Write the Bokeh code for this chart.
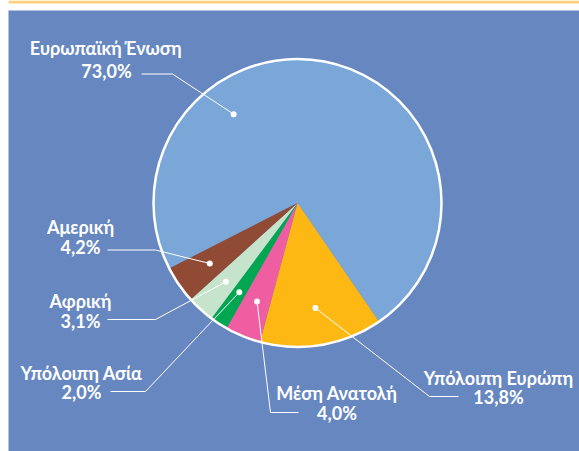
import math
from bokeh.plotting import figure
from bokeh.models import Range1d, ColumnDataSource
from bokeh.core.properties import value
from bokeh.embed import file_html
from bokeh.resources import INLINE

# ---- data ----
regions = ["Ευρωπαϊκή Ένωση", "Υπόλοιπη Ευρώπη", "Μέση Ανατολή",
           "Υπόλοιπη Ασία", "Αφρική", "Αμερική"]
shares = [73.0, 13.8, 4.0, 2.0, 3.1, 4.2]
share_labels = ["73,0%", "13,8%", "4,0%", "2,0%", "3,1%", "4,2%"]
colors = ["#7aa6d8", "#fdb813", "#ee5ea0", "#00a650", "#c6e4cb", "#914a33"]

W, H = 579, 451
def Y(py):
    return H - py

# ---- layout (pixel positions) ----
CX, CY, R = 297, 202.5, 144
START_DEG = -55.5
# label centre x, name y, value y, elbow point, line end
label_pos = {
    "Ευρωπαϊκή Ένωση": (106, 47.5, 70, (172, 73.5), (141, 73.5)),
    "Υπόλοιπη Ευρώπη": (498, 377.5, 396.5, (429, 396), (458, 396)),
    "Μέση Ανατολή": (336.5, 392.5, 412, (270, 412), (298, 412)),
    "Υπόλοιπη Ασία": (81, 372.5, 391.5, (145, 391), (110, 391)),
    "Αφρική": (80, 300, 320, (155, 319), (107, 319)),
    "Αμερική": (80, 226.5, 246.5, (155, 249.5), (107, 249.5)),
}
eu_dot_angle = 125.7

p = figure(width=W, height=H, output_backend="svg", toolbar_location=None,
           x_range=Range1d(0, W), y_range=Range1d(0, H),
           min_border=0, outline_line_color=None,
           background_fill_color="white", border_fill_color="white")
p.axis.visible = False
p.grid.visible = False

p.quad(left=[8], right=[W], bottom=[Y(3)], top=[Y(0)], fill_color="#fcd07c", line_color=None)
p.quad(left=[8], right=[W], bottom=[Y(H)], top=[Y(10)], fill_color="#6787c0", line_color=None)

total = sum(shares)
a = START_DEG
ang = {}
for i in range(1, len(shares)):
    span = shares[i] / total * 360
    ang[i] = (a - span, a)
    a -= span
ang[0] = (START_DEG, a + 360)
starts, ends, mids = [], [], []
for i in range(len(shares)):
    s, e = ang[i]
    starts.append(math.radians(s))
    ends.append(math.radians(e))
    mids.append((s + e) / 2)

src = ColumnDataSource(dict(start=starts, end=ends, color=colors))
p.wedge(x=CX, y=Y(CY), radius=R, start_angle="start", end_angle="end",
        fill_color="color", line_color=None, source=src)
p.circle(x=[CX], y=[Y(CY)], radius=R, fill_color=None, line_color="white", line_width=2.5)

xs_l, ys_l, dx, dy = [], [], [], []
tx, ty, tt = [], [], []
for i, name in enumerate(regions):
    m = eu_dot_angle if i == 0 else mids[i]
    rr = 0.76 * R if i == 0 else 0.74 * R
    px = CX + rr * math.cos(math.radians(m))
    py = CY - rr * math.sin(math.radians(m))
    lx, ny, vy, elbow, end = label_pos[name]
    xs_l.append([px, elbow[0], end[0]])
    ys_l.append([Y(py), Y(elbow[1]), Y(end[1])])
    dx.append(px); dy.append(Y(py))
    tx += [lx, lx]
    ty += [Y(ny), Y(vy)]
    tt += [name, share_labels[i]]

p.multi_line(xs=xs_l, ys=ys_l, line_color="white", line_width=1)
p.scatter(x=dx, y=dy, size=6, fill_color="white", line_color=None)
p.text(x=tx, y=ty, text=tt, text_color="white", text_font=value("Lato"),
       text_font_style="bold", text_font_size="18px",
       text_align="center", text_baseline="middle")

open("out.html", "w").write(file_html(p, INLINE))
